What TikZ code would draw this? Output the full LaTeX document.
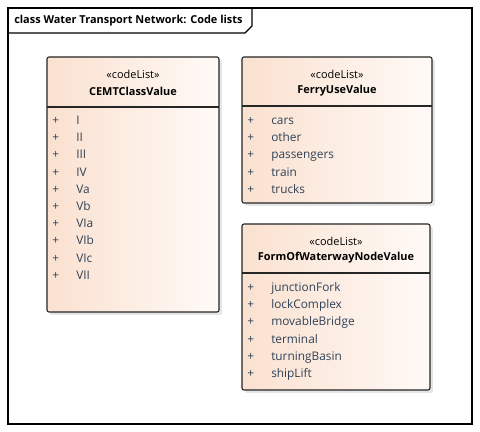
\documentclass[tikz,border=0pt]{standalone}
\usepackage{fontspec}
\setmainfont{Open Sans}
\usetikzlibrary{positioning}

\definecolor{itemtext}{RGB}{48,66,88}
\definecolor{boxleft}{RGB}{250,225,208}
\definecolor{boxright}{RGB}{255,250,247}

\tikzset{
  codebox/.style={draw=black!85, line width=0.8pt, rounded corners=1.5pt, left color=boxleft, right color=boxright},
  boxshadow/.style={fill=black!10, rounded corners=1.5pt},
  stereo/.style={inner sep=0pt, font=\fontsize{8.2}{10}\selectfont},
  clsname/.style={inner sep=0pt, font=\fontsize{8.2}{10}\selectfont\bfseries},
  item/.style={anchor=base west, inner sep=0pt, text=itemtext, font=\fontsize{8.9}{10}\selectfont},
}

% one code list box: left, top, right, bottom, divider, stereotype y, name, first item y, items
\newcommand{\codelistbox}[9]{
  \fill[boxshadow] (#1+3,#2+3) rectangle (#3+3,#4+3);
  \draw[codebox] (#1,#2) rectangle (#3,#4);
  \draw[black!85, line width=0.8pt] (#1,#5) -- (#3,#5);
  \node[stereo] (#7-st) at ({(#1+#3)/2},#6) {«codeList»};
  \node[clsname] (#7) at ({(#1+#3)/2},#6+17) {#7};
  \foreach \t [count=\i] in {#9} {
    \node[item] (#7-p\i) at (#1+5,{#8+4.5+17.2*(\i-1)}) {+};
    \node[item] (#7-v\i) at (#1+29,{#8+4.5+17.2*(\i-1)}) {\t};
  }
}

\begin{document}
\begin{tikzpicture}[x=0.75pt, y=-0.75pt]
  \useasboundingbox (0,0) rectangle (480,432);
  \fill[white] (0,0) rectangle (480,432);

  % diagram frame
  \draw[black, line width=0.8pt] (8,8) rectangle (472,424);
  \draw[black, line width=0.8pt] (8,33) -- (245,33) -- (252,26) -- (252,8);
  \node[anchor=west, inner sep=0pt, font=\fontsize{8.2}{10}\selectfont\bfseries] (title) at (14,21) {class Water Transport Network: Code lists};

  % code lists
  \codelistbox{47}{57}{219}{312}{107}{74}{CEMTClassValue}{120}{I,II,III,IV,Va,Vb,VIa,VIb,VIc,VII}
  \codelistbox{242}{57}{432}{203}{106}{74}{FerryUseValue}{120}{cars,other,passengers,train,trucks}
  \codelistbox{242}{224}{430}{390}{273}{241}{FormOfWaterwayNodeValue}{287}{junctionFork,lockComplex,movableBridge,terminal,turningBasin,shipLift}
\end{tikzpicture}
\end{document}
